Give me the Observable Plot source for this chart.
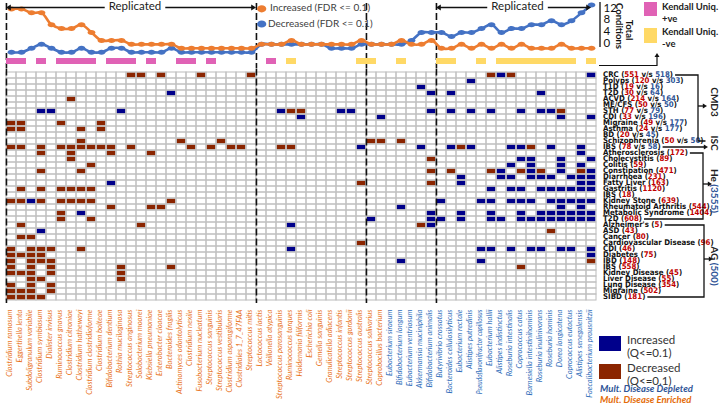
<!DOCTYPE html>
<html><head><meta charset="utf-8">
<script src="https://cdn.jsdelivr.net/npm/d3@7"></script>
<script src="https://cdn.jsdelivr.net/npm/@observablehq/plot@0.6"></script>
<style>
html,body{margin:0;padding:0;background:#fff;}
#wrap{position:relative;width:722px;height:405px;overflow:hidden;background:#fff;}
#wrap > svg{position:absolute;left:0;top:0;overflow:visible;}
.t{position:absolute;white-space:nowrap;}
.dl{font-family:"Liberation Sans Narrow","DejaVu Sans Condensed","Liberation Sans",sans-serif;font-weight:bold;font-size:7.8px;line-height:6px;height:6px;color:#111;}
.red{color:#C00000}.blu{color:#2F5597}
</style></head><body><div id="wrap"></div>
<script>
// ---------- DATA ----------
const species = [
 "Clostridium ramosum","Eggerthella lenta","Subdoligranulum variabile","Clostridium symbiosum","Dialister invisus",
 "Ruminococcus gnavus","Clostridium citroniae","Clostridium hathewayi","Clostridium clostridioforme","Clostridium bolteae",
 "Bifidobacterium dentium","Rothia mucilaginosa","Streptococcus anginosus","Solobacterium moorei","Klebsiella pneumoniae",
 "Enterobacter cloacae","Bacteroides fragilis","Actinomyces odontolyticus","Clostridium nexile","Fusobacterium nucleatum",
 "Streptococcus sanguinis","Streptococcus vestibularis","Clostridium asparagiforme","Clostridiales 1_7_47FAA","Streptococcus mitis",
 "Lactococcus lactis","Veillonella atypica","Streptococcus parasanguinis","Ruminococcus torques","Holdemania filiformis",
 "Escherichia coli","Gemella sanguinis","Granulicatella adiacens","Streptococcus infantis","Streptococcus gordonii",
 "Streptococcus australis","Streptococcus salivarius","Coprobacillus bacterium","Eubacterium siraeum","Bifidobacterium longum",
 "Eubacterium ventriosum","Akkermansia muciniphila","Bifidobacterium animalis",
 "Butyrivibrio crossotus","Bacteroides cellulosilyticus","Eubacterium rectale","Alistipes putredinis","Pseudoflavonifractor capillosus",
 "Eubacterium hallii","Alistipes indistinctus","Roseburia intestinalis","Coprococcus catus",
 "Barnesiella intestinihominis","Roseburia inulinivorans","Roseburia hominis","Dorea longicatena","Coprococcus eutactus",
 "Alistipes senegalensis","Faecalibacterium prausnitzii"
];
// E = multi-disease enriched (orange label), D = depleted (blue label)
const speciesDirection = "EEEEEEEEEEEEEEEEEEEEEEEEEEEEEEEEEEEEEEDDDDDDDDDDDDDDDDDDDDD";
const groupStarts = [0, 25, 36, 43];
const increasedFDR = [11,11,10,10,7,6,6,7,5,3,3,3,2,2,2,2,2,1,1,1,1,1,1,1,1, 2,2,2,3,2,2,2,2,2,2,3, 2,2,2,3,2,2,3, 1,1,2,1,2,1,2,1,2,1,1,1,2,1,1,1];
const decreasedFDR = [0,0,1,2,1,0,0,1,0,0,1,1,0,0,0,0,1,0,0,0,0,0,0,0,0, 2,2,2,2,2,2,2,1,1,1,2, 2,2,2,2,3,5,5, 5,4,5,5,6,7,5,6,6,7,7,8,7,8,10,12];
const kendallPositive = [0,1,3,5,6,7,8,10,11,12,14,17,18,20,26];
const kendallNegative = [28,35,36,39,43,44,47,49,50,51,52,53,54,55,56,58];

const diseases = ["CRC","Polyps","T1D","T2D","ACVD","ME/CFS","STH","CDI","Migraine","Asthma","BD","Schizophrenia",
 "IBS","Atherosclerosis","Cholecystitis","Colitis","Constipation","Diarrhoea","Fatty Liver","Gastritis","IBS",
 "Kidney Stone","Rheumatoid Arthritis","Metabolic Syndrome","T2D","Alzheimer's","ASD","Cancer","Cardiovascular Disease",
 "CDI","Diabetes","IBD","IBS","Kidney Disease","Liver Disease","Lung Disease","Migraine","SIBD"];
const nCases = [551,120,19,30,214,50,77,33,49,24,20,50,78,172,89,59,471,231,163,1120,18,639,544,1404,608,5,43,80,96,46,75,148,558,45,55,354,502,181];
const nControls = [518,303,16,64,164,50,79,196,177,177,45,50,58];
const cohorts = [
 {name:"CMD3", n:null, from:0, to:11},
 {name:"ISC", n:null, from:12, to:12},
 {name:"He", n:3555, from:13, to:24},
 {name:"AG", n:500, from:25, to:37}
];
// colored cells per disease row: column indices
const decreasedCells = [
 [12,13,15,19,24,48,50],[],[],[],[6],[],[28,29,55],[],[0,1,5,9],[0,1,7,9],[],[7,17,21,36,37,39],
 [0,1,3,5,6,7,8,9,10,12,18,20,22,23,27,28,45,52],[3,6,10,14],[6,42],[8],[3,7,42,44,48,51,53,57],[],[35,42],
 [1,3,5,6,7,8],[],[0,1,3,5,6,7,8,16],[10,14,15],[5],[5,8],[1,13,41],[54],[1,2],[35],[0,2,3,4,7],[0,1,2,3],
 [0,2,3,4,58],[0,2,4,11,16,51],[0,1,2,4,11],[2,3,11],[0,2,4],[0,1,2,4],[0,1,2,3]
];
const increasedCells = [
 [49,58],[46],[41],[16,42,44,53],[],[],[3,4,11,27,33,34,42,44,46,48,51,53,54],[29,37,55,58],[],[],[],[],
 [35,41,44,46,50,51,54,57],[57],[51,52,55,58],[50,52,55,57],[49,52,55,58],[45,49,50,52,53,54,56,57,58],[10,45,57,58],
 [48,50,51,53,54,55,56,57,58],[],[2,43,47,48,50,51,52,54,55,56,57,58],[39,55,57],[7,42,45,48,51,53,54,55,56,57,58],
 [36,42,43,45,48,49,51,52,53,54,55,56,57,58],[28,42],[3],[],[],[28,47,48,50,52,53,55,56,58],[58],[39,47],[],[],[],[],[],[]
];

// ---------- COLORS ----------
const ORANGE = "#ED7D31", BLUE = "#4472C4", CELL_BLUE = "#00008B", CELL_RED = "#8B2500";
const LAB_OR = "#E8731A", LAB_BL = "#2F6EBA";

// ---------- PLOTS ----------
const wrap = document.getElementById("wrap");
const W = 722, ML = 3.2, MR = W - 599;
const bw = (599 - ML) / species.length;
const xScale = {type:"band", domain: species, padding:0, axis:null};
const baseStyle = {background:"transparent", overflow:"visible", fontFamily:"Lato, sans-serif"};

const lineData = species.map((s,i)=>({s, inc: increasedFDR[i], dec: decreasedFDR[i]}));
const ellipse = {draw(ctx){const rx=3.9, ry=2.5, k=0.5523;
  ctx.moveTo(rx,0); ctx.bezierCurveTo(rx,ry*k,rx*k,ry,0,ry); ctx.bezierCurveTo(-rx*k,ry,-rx,ry*k,-rx,0);
  ctx.bezierCurveTo(-rx,-ry*k,-rx*k,-ry,0,-ry); ctx.bezierCurveTo(rx*k,-ry,rx,-ry*k,rx,0); ctx.closePath();}};

const topPlot = Plot.plot({width:W, height:68, marginLeft:ML, marginRight:MR, marginTop:3, marginBottom:0,
  style:baseStyle, x:xScale, y:{domain:[0,12], range:[51.7,4.5], axis:null},
  marks:[
    Plot.ruleX(groupStarts.map(i=>species[i]), {dx:-bw/2, stroke:"#111", strokeWidth:1.6, strokeDasharray:"7,3"}),
    Plot.line(lineData, {x:"s", y:"dec", stroke:BLUE, strokeWidth:2.6, curve:"catmull-rom"}),
    Plot.dot(lineData, {x:"s", y:"dec", fill:BLUE, symbol:ellipse, r:3}),
    Plot.line(lineData, {x:"s", y:"inc", stroke:ORANGE, strokeWidth:2.6, curve:"catmull-rom"}),
    Plot.dot(lineData, {x:"s", y:"inc", fill:ORANGE, symbol:ellipse, r:3})
  ]});
wrap.appendChild(topPlot);

const axisPlot = Plot.plot({width:W, height:60, marginLeft:0, marginRight:122, marginTop:0, marginBottom:0,
  style:{...baseStyle, fontSize:"11.5px", color:"#111"},
  y:{domain:[0,12], range:[42.7,7.5]},
  marks:[Plot.axisY({anchor:"right", ticks:[0,4,8,12], tickSize:0, tickPadding:3, label:null})]});
wrap.appendChild(axisPlot);

const kData = species.map((s,i)=>({s, k: kendallPositive.includes(i) ? "+" : kendallNegative.includes(i) ? "-" : null})).filter(d=>d.k);
const kPlot = Plot.plot({width:W, height:66, marginLeft:ML, marginRight:MR, marginTop:57.3, marginBottom:0.5,
  style:baseStyle, x:xScale, y:{domain:["k"], axis:null},
  marks:[Plot.cell(kData, {x:"s", y:()=>"k", fill:d=>d.k==="+" ? "#E062B5" : "#FFD966", inset:0})]});
wrap.appendChild(kPlot);

const grid = [];
diseases.forEach((d,r)=>species.forEach((s,c)=>grid.push({r, s})));
const colored = [];
decreasedCells.forEach((cols,r)=>cols.forEach(c=>colored.push({r, s:species[c], fill:CELL_RED})));
increasedCells.forEach((cols,r)=>cols.forEach(c=>colored.push({r, s:species[c], fill:CELL_BLUE})));

const heat = Plot.plot({width:W, height:405, marginLeft:ML, marginRight:MR, marginTop:68.6, marginBottom:405-303.1,
  style:baseStyle, x:xScale, y:{type:"band", domain:d3.range(diseases.length), padding:0, axis:null},
  marks:[
    Plot.cell(grid, {x:"s", y:"r", fill:"#fff"}),
    Plot.cell(colored, {x:"s", y:"r", fill:"fill", insetLeft:0.5, insetRight:0.5, insetTop:0.4, insetBottom:0.4}),
    Plot.cell(grid, {x:"s", y:"r", fill:"none", stroke:"#c2c2c2", strokeWidth:1.1}),
    Plot.ruleX(groupStarts.map(i=>species[i]), {dx:-bw/2, stroke:"#111", strokeWidth:1.6, strokeDasharray:"7,3"}),
    Plot.text(species, {x:d=>d, frameAnchor:"bottom", dy:6, rotate:-90, textAnchor:"end",
      fill:(d,i)=>speciesDirection[i]==="E" ? LAB_OR : LAB_BL, fontSize:d=>d.length > 28 ? 6.6 : 7.6,
      fontStyle:"italic", fontFamily:"Lato, sans-serif"})
  ]});
wrap.appendChild(heat);

// ---------- ANNOTATIONS ----------
const ys = heat.scale("y"), xs = heat.scale("x");
const yc = i => ys.apply(i) + ys.bandwidth/2;
const labelEnds = [];
diseases.forEach((d,i)=>{
  const el = document.createElement("div");
  el.className = "t dl";
  el.style.left = "603px"; el.style.top = (yc(i)-3.3)+"px";
  let html = d + " (<span class='red'>" + nCases[i] + "</span>";
  if (i < nControls.length) html += " v/s <span class='blu'>" + nControls[i] + "</span>";
  html += ")";
  el.innerHTML = html;
  wrap.appendChild(el);
  labelEnds[i] = 603 + el.getBoundingClientRect().width;
});

const svg = d3.select(wrap).append("svg").attr("width",W).attr("height",405);
const ink = "#111";
function arrowHead(x, y, dir, s=4){
  const p = dir==="r" ? `M${x},${y}L${x-s*1.6},${y-s}L${x-s*1.6},${y+s}Z`
          : dir==="l" ? `M${x},${y}L${x+s*1.6},${y-s}L${x+s*1.6},${y+s}Z`
          : `M${x},${y}L${x-s},${y+s*1.6}L${x+s},${y+s*1.6}Z`;
  svg.append("path").attr("d",p).attr("fill",ink);
}
function line(pts, w=1.3){svg.append("path").attr("d","M"+pts.map(p=>p.join(",")).join("L")).attr("fill","none").attr("stroke",ink).attr("stroke-width",w);}

// brackets
const brX = {CMD3:698, ISC:706, He:703, AG:704};
cohorts.forEach(g=>{
  const X = brX[g.name];
  const y1 = yc(g.from), y2 = yc(g.to);
  if (g.from === g.to){
    line([[labelEnds[g.from]+2,y1],[X,y1]]);
    arrowHead(X+2,y1,"r",2.6);
  } else {
    line([[labelEnds[g.from]+2,y1],[X,y1],[X,y2],[labelEnds[g.to]+2,y2]]);
    const ym = (y1+y2)/2 - 2;
    line([[X,ym],[X+6,ym]]);
    arrowHead(X+9,ym,"r",2.6);
  }
  const ym = g.from===g.to ? y1-4 : (y1+y2)/2 + (g.n ? 5 : -6);
  const t = svg.append("text").attr("transform",`translate(714,${ym}) rotate(90)`).attr("text-anchor","middle")
    .attr("dominant-baseline","middle").attr("font-family","Lato, sans-serif").attr("font-weight","bold").attr("font-size",10).attr("fill","#222");
  t.append("tspan").text(g.name);
  if (g.n) t.append("tspan").attr("fill","#2F5597").text(" ("+g.n+")");
});

// replicated arrows
function replicated(xa, xb){
  const cx = (xa+xb)/2 + 4, y = 7.5;
  const t = svg.append("text").attr("x",cx).attr("y",y).attr("text-anchor","middle").attr("dominant-baseline","middle")
    .attr("font-family","Lato, sans-serif").attr("font-size",11.5).attr("fill","#222").text("Replicated");
  const bb = t.node().getBBox();
  line([[xa+4,y],[bb.x-4,y]],1.5); line([[bb.x+bb.width+4,y],[xb-4,y]],1.5);
  arrowHead(xa,y,"l",3); arrowHead(xb,y,"r",3);
}
replicated(xs.apply(species[0]), xs.apply(species[groupStarts[1]]));
replicated(xs.apply(species[groupStarts[3]]), xs.apply(species[species.length-1]) + bw*0.5);

// right axis line & title
line([[600,2],[600,47]],1.3);
const tc = svg.append("g").attr("font-family","Lato, sans-serif").attr("font-weight","bold").attr("font-size",9.5).attr("fill","#111");
tc.append("text").attr("transform","translate(628,30) rotate(90)").attr("text-anchor","middle").attr("dominant-baseline","middle").text("Total");
tc.append("text").attr("transform","translate(618,26) rotate(90)").attr("text-anchor","middle").attr("dominant-baseline","middle").text("Conditions");

// Kendall legend
svg.append("rect").attr("x",644).attr("y",2).attr("width",13).attr("height",14).attr("fill","#E062B5");
svg.append("rect").attr("x",644).attr("y",28).attr("width",13).attr("height",15).attr("fill","#FFD966");
const kl = svg.append("g").attr("font-family","Lato, sans-serif").attr("font-weight","bold").attr("font-size",9.5).attr("fill","#222");
[["Kendall Uniq.",10],["+ve",22],["Kendall Uniq.",35],["-ve",47]].forEach(([s,y])=>kl.append("text").attr("x",662).attr("y",y).text(s));
line([[599,65.5],[657,65.5],[657,57]],1.2); arrowHead(657,53,"u",2.5);

// top legend
[[ORANGE,8.8,"Increased (FDR <= 0.1)",270],[BLUE,24,"Decreased (FDR <= 0.1)",268]].forEach(([c,y,s,x])=>{
  svg.append("ellipse").attr("cx",261.7).attr("cy",y).attr("rx",4.6).attr("ry",3.6).attr("fill",c);
  svg.append("text").attr("x",x).attr("y",y).attr("dominant-baseline","middle").attr("font-family","Lato, sans-serif")
    .attr("font-size",10).attr("fill","#404040").text(s);
});

// bottom legend
svg.append("rect").attr("x",599).attr("y",336).attr("width",22).attr("height",15).attr("fill",CELL_BLUE);
svg.append("rect").attr("x",599).attr("y",364).attr("width",22).attr("height",15).attr("fill",CELL_RED);
const bl = svg.append("g").attr("font-family","Lato, sans-serif").attr("font-size",11.5).attr("fill","#333");
[["Increased",344],["(Q<=0.1)",357],["Decreased",372],["(Q<=0.1)",385]].forEach(([s,y])=>bl.append("text").attr("x",627).attr("y",y).text(s));
svg.append("text").attr("x",600).attr("y",392).attr("font-family","Lato, sans-serif").attr("font-weight","bold").attr("font-style","italic")
  .attr("font-size",9.5).attr("fill","#2F5597").text("Mult. Disease Depleted");
svg.append("text").attr("x",600).attr("y",403).attr("font-family","Lato, sans-serif").attr("font-weight","bold").attr("font-style","italic")
  .attr("font-size",9.5).attr("fill","#E46C0A").text("Mult. Disease Enriched");
</script></body></html>
